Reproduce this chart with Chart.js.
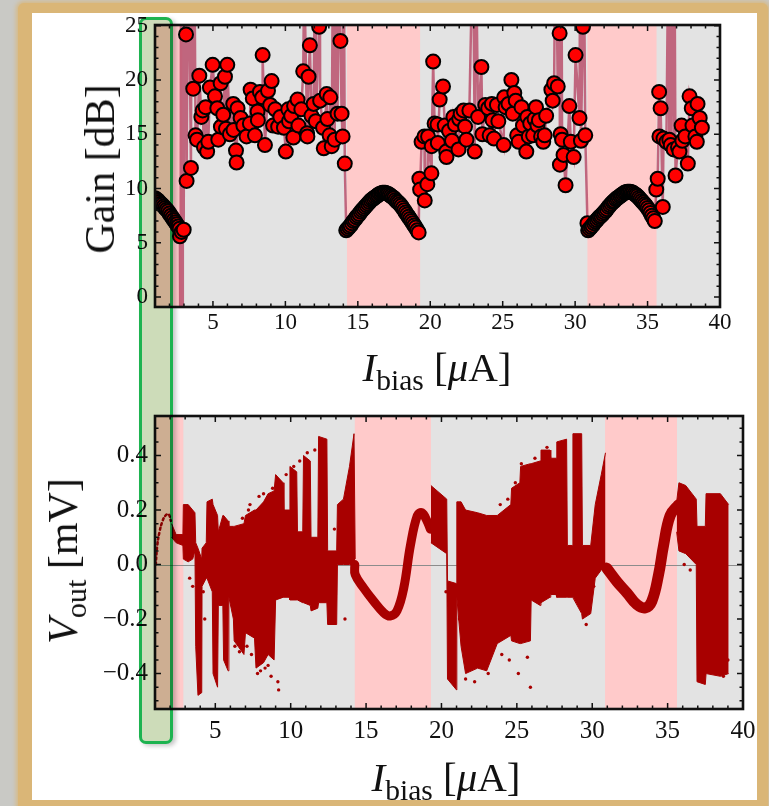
<!DOCTYPE html>
<html>
<head>
<meta charset="utf-8">
<script src="https://cdn.jsdelivr.net/npm/chart.js@4.4.1/dist/chart.umd.min.js"></script>
<style>
  html, body { margin: 0; padding: 0; }
  body { width: 769px; height: 806px; background: #c9c9c5; position: relative; overflow: hidden; font-family: "Liberation Serif", serif; }
  #mat { position: absolute; left: 18px; top: 3px; width: 750px; height: 810px; background: #dab677; border-radius: 6px; box-shadow: 0 0 4px 2px #d6b985; }
  #paper { position: absolute; left: 32px; top: 13px; width: 725px; height: 787px; background: #fff; }
  canvas { position: absolute; left: 0; }
  #gainChart { top: 0; }
  #voutChart { top: 390px; }
  .title { position: absolute; white-space: nowrap; color: #111; line-height: 1; }
  .title sub { font-size: 0.72em; vertical-align: baseline; position: relative; top: 0.3em; }
  .ytitle { font-size: 42px; transform: translate(-50%, -50%) rotate(-90deg); }
  .xtitle { font-size: 41px; transform: translateX(-50%); }
  #marker { position: absolute; left: 139px; top: 17px; width: 28px; height: 721px; border: 3px solid #1db350; border-radius: 7px; background: #cddcb9; mix-blend-mode: multiply; box-shadow: 3px 2px 4px rgba(0, 0, 0, 0.22); }
</style>
</head>
<body>
<div id="mat"></div>
<div id="paper"></div>
<canvas id="gainChart" width="769" height="390"></canvas>
<canvas id="voutChart" width="769" height="416"></canvas>
<div class="title ytitle" style="left:100px; top:169px;">Gain [dB]</div>
<div class="title xtitle" style="left:437px; top:347px;"><i>I</i><sub>bias</sub> [<i>μ</i>A]</div>
<div class="title ytitle" style="left:63px; top:561px;"><i>V</i><sub>out</sub> [mV]</div>
<div class="title xtitle" style="left:446px; top:757px;"><i>I</i><sub>bias</sub> [<i>μ</i>A]</div>
<div id="marker"></div>
<script>
// tick labels
const biasTicks = [5, 10, 15, 20, 25, 30, 35, 40];
const gainTicks = [0, 5, 10, 15, 20, 25];
const voutTicks = [-0.4, -0.2, 0, 0.2, 0.4];

// bias windows where the junction sits on the smooth branch
const pinkBands = [[1, 2.88], [14.25, 19.3], [30.85, 35.62]];

// gain [I_bias, dB] - smooth branches
const gainArcA = [[1.0,9.1],[1.1,9.0],[1.2,8.9],[1.3,8.75],[1.4,8.6],[1.5,8.5],[1.6,8.35],[1.7,8.2],[1.8,8.05],[1.9,7.9],
  [2.0,7.7],[2.1,7.5],[2.2,7.3],[2.3,7.1],[2.4,6.9],[2.5,6.7],[2.6,6.5],[2.7,6.3]];
const gainArcB = [[14.2,6.15],[14.3,6.3],[14.4,6.45],[14.5,6.6],[14.6,6.8],[14.7,7.0],[14.8,7.15],[14.9,7.35],[15.0,7.5],
  [15.1,7.65],[15.2,7.85],[15.3,8.0],[15.4,8.15],[15.5,8.3],[15.6,8.45],[15.7,8.6],[15.8,8.75],[15.9,8.9],[16.0,9.0],
  [16.1,9.1],[16.2,9.2],[16.3,9.3],[16.4,9.4],[16.5,9.5],[16.6,9.55],[16.7,9.6],[16.8,9.6],[16.9,9.6],[17.0,9.55],
  [17.1,9.5],[17.2,9.4],[17.3,9.3],[17.4,9.2],[17.5,9.1],[17.6,8.95],[17.7,8.8],[17.8,8.7],[17.9,8.55],[18.0,8.4],
  [18.1,8.2],[18.2,8.0],[18.3,7.8],[18.4,7.6],[18.5,7.4],[18.6,7.2],[18.7,7.0],[18.8,6.8],[18.9,6.6],[19.0,6.4],
  [19.1,6.15],[19.2,5.95]];
const gainArcC = [[30.9,6.15],[31.0,6.3],[31.1,6.45],[31.2,6.6],[31.3,6.8],[31.4,6.95],[31.5,7.1],[31.6,7.25],[31.7,7.4],
  [31.8,7.5],[31.9,7.65],[32.0,7.8],[32.1,7.95],[32.2,8.1],[32.3,8.3],[32.4,8.45],[32.5,8.6],[32.6,8.75],[32.7,8.85],
  [32.8,9.0],[32.9,9.1],[33.0,9.2],[33.1,9.3],[33.2,9.4],[33.3,9.5],[33.4,9.6],[33.5,9.65],[33.6,9.7],[33.7,9.7],
  [33.8,9.7],[33.9,9.65],[34.0,9.6],[34.1,9.5],[34.2,9.4],[34.3,9.3],[34.4,9.15],[34.5,9.0],[34.6,8.85],[34.7,8.7],
  [34.8,8.55],[34.9,8.4],[35.0,8.2],[35.1,8.0],[35.2,7.75],[35.3,7.5],[35.4,7.25],[35.5,7.0]];

// gain [I_bias, dB] - noisy branches (values beyond the frame leave the plot)
const gainScanA = [[2.72,5.6],[2.76,-10],[2.8,40],[2.84,6.0],[2.88,-10],[2.92,38],[2.98,6.2],[3.05,36],[3.14,24.2],
  [3.18,10.7],[3.3,36],[3.48,11.9],[3.55,38],[3.64,19.2],[3.7,36],[3.8,14.9],[3.9,14.5],[4.06,20.4],[4.2,16.6],
  [4.29,17.2],[4.38,13.8],[4.5,17.5],[4.6,13.4],[4.68,14.3],[4.79,19.3],[4.98,21.4],[5.14,18.5],[5.3,17.4],
  [5.37,14.5],[5.53,19.7],[5.55,15.7],[5.71,16.8],[5.83,20.3],[5.9,15.5],[5.99,21.4],[6.17,15.0],[6.4,17.8],
  [6.42,15.4],[6.59,13.5],[6.63,12.4],[6.7,17.4],[6.91,16.5],[7.1,15.8],[7.32,14.8],[7.55,16.0],[7.6,19.1],
  [7.75,18.3],[7.9,14.9],[8.08,17.1],[8.1,16.3],[8.24,18.9],[8.4,18.4],[8.43,22.3],[8.59,14.0],[8.8,19.0],
  [8.95,17.7],[9.05,19.9],[9.15,15.8],[9.3,17.3],[9.5,15.7],[9.65,16.6],[9.9,15.6],[10.03,13.4],[10.2,17.3],
  [10.25,16.2],[10.4,16.7],[10.55,14.7],[10.6,17.6],[10.84,18.2],[10.9,15.8],[11.1,17.3],[11.23,20.8],[11.3,30],
  [11.5,15.1],[11.52,14.8],[11.6,20.3],[11.69,23.2],[11.8,16.7],[11.95,17.8],[12.05,32],[12.1,16.2],[12.33,24.9],
  [12.38,33],[12.4,18.1],[12.6,15.6],[12.65,13.7],[12.85,18.7],[12.9,16.4],[13.05,14.9],[13.1,18.4],[13.2,13.9],
  [13.3,36],[13.4,14.5],[13.5,35],[13.6,16.9],[13.7,34],[13.8,23.6],[13.88,16.9],[13.95,14.8],[14.03,34],[14.1,12.3]];
const gainScanB = [[19.25,10.9],[19.3,9.9],[19.4,14.3],[19.6,14.8],[19.62,8.9],[19.8,10.4],[19.85,14.8],[20.08,11.4],
  [20.1,13.9],[20.2,21.7],[20.3,16.0],[20.5,15.9],[20.52,14.2],[20.65,18.2],[20.88,19.4],[21.0,15.8],[21.1,13.4],
  [21.12,12.9],[21.3,15.3],[21.5,14.4],[21.6,16.6],[21.7,15.9],[21.95,13.6],[22.0,16.4],[22.1,16.9],[22.3,17.2],
  [22.4,15.7],[22.5,14.5],[22.7,17.2],[22.95,34],[23.07,13.4],[23.15,33],[23.3,16.6],[23.53,21.2],[23.6,15.0],
  [23.8,17.7],[24.0,17.4],[24.1,14.9],[24.25,17.8],[24.3,16.3],[24.4,14.6],[24.6,17.7],[24.7,16.2],[25.07,14.0],
  [25.1,18.4],[25.2,17.5],[25.4,17.8],[25.6,20.0],[25.7,16.9],[25.8,18.8],[25.9,18.1],[26.0,14.9],[26.1,14.3],
  [26.3,17.5],[26.4,15.8],[26.63,13.4],[26.7,16.6],[26.8,14.8],[26.9,16.0],[27.1,14.9],[27.2,16.4],[27.3,17.5],
  [27.4,15.8],[27.5,16.3],[27.65,14.8],[27.8,14.3],[27.9,14.9],[28.0,16.7],[28.36,19.1],[28.45,18.1],[28.55,19.7],
  [28.65,36],[28.8,19.4],[28.93,24.3],[28.95,12.2],[29.0,15.0],[29.05,35],[29.1,14.5],[29.2,13.1],[29.34,10.3],
  [29.6,17.6],[29.7,14.3],[29.9,12.9],[30.03,22.3],[30.3,16.5],[30.35,34],[30.4,14.4],[30.54,24.9],[30.6,33],
  [30.7,14.9],[30.85,6.8]];
const gainScanC = [[35.6,9.9],[35.7,10.9],[35.8,18.9],[35.82,14.8],[35.9,17.4],[36.05,8.3],[36.1,14.6],[36.3,14.3],
  [36.45,35],[36.5,14.5],[36.6,14.0],[36.7,36],[36.8,13.6],[36.85,35],[36.93,11.2],[37.1,13.8],[37.2,13.4],
  [37.35,15.8],[37.4,14.4],[37.6,14.8],[37.78,12.3],[37.9,18.5],[38.05,17.4],[38.1,15.8],[38.3,14.8],[38.4,14.3],
  [38.45,17.8],[38.6,16.5],[38.75,15.6]];

// V_out [I_bias, top, bottom] - spread of the switching branches
const voutSpreadA = [[2.1,0.15,0.10],[2.4,0.11,0.08],[2.85,0.11,0.07],[2.88,0.22,0.02],[3.2,0.22,0.01],[3.5,0.20,0.02],
  [3.65,0.19,0.05],[3.7,0.08,-0.30],[3.85,0.06,-0.48],[4.1,0.02,-0.47],[4.12,0.06,-0.08],[4.4,0.08,-0.05],
  [4.45,0.23,-0.05],[4.8,0.24,-0.10],[4.85,0.22,-0.40],[5.15,0.18,-0.45],[5.2,0.12,-0.15],[5.5,0.18,-0.15],
  [5.55,0.18,-0.35],[5.85,0.16,-0.39],[5.9,0.14,-0.12],[6.2,0.14,-0.20],[6.25,0.14,-0.28],[6.9,0.15,-0.33],
  [7.0,0.18,-0.25],[7.6,0.20,-0.27],[7.7,0.20,-0.38],[8.2,0.23,-0.36],[8.5,0.26,-0.33],[8.9,0.27,-0.35],
  [9.0,0.33,-0.13],[9.5,0.30,-0.12],[9.55,0.20,-0.12],[9.9,0.20,-0.12],[9.95,0.36,-0.13],[10.4,0.34,-0.13],
  [10.45,0.12,-0.13],[10.8,0.12,-0.14],[10.85,0.40,-0.14],[11.3,0.38,-0.15],[11.35,0.10,-0.17],[11.8,0.10,-0.16],
  [11.85,0.47,-0.14],[12.4,0.46,-0.14],[12.45,0.05,-0.22],[13.05,0.05,-0.22],[13.1,0.22,0.0],[13.5,0.24,0.0],
  [13.9,0.36,0.0],[14.2,0.48,0.0],[14.28,0.02,-0.02]];
const voutSpreadB = [[19.3,0.29,0.08],[20.35,0.24,0.04],[20.4,-0.06,-0.42],[21.0,-0.07,-0.46],[21.02,0.23,-0.12],
  [21.3,0.23,-0.30],[21.6,0.20,-0.40],[22.4,0.19,-0.38],[23.0,0.18,-0.39],[23.7,0.18,-0.29],[24.6,0.22,-0.26],
  [24.65,0.28,-0.28],[25.2,0.30,-0.29],[25.25,0.36,-0.29],[25.9,0.37,-0.28],[25.95,0.37,-0.13],[26.55,0.38,-0.15],
  [26.6,0.42,-0.14],[27.2,0.42,-0.12],[27.25,0.39,-0.11],[27.6,0.39,-0.11],[27.65,0.45,-0.12],[28.3,0.46,-0.12],
  [28.35,0.07,-0.12],[28.7,0.07,-0.12],[28.72,0.48,-0.12],[29.3,0.48,-0.18],[29.35,0.07,-0.20],[29.9,0.07,-0.18],
  [30.2,0.22,-0.05],[30.6,0.33,-0.02],[30.88,0.41,0.0]];
const voutSpreadC = [[35.6,0.23,0.12],[35.75,0.30,0.05],[36.2,0.29,0.04],[36.9,0.24,0.0],[36.95,0.14,-0.43],
  [37.5,0.14,-0.44],[37.55,0.26,-0.40],[38.5,0.26,-0.41],[39.05,0.22,-0.40]];

// V_out [I_bias, mV] - smooth branches
const voutSweepA = [[1.05,0.0],[1.15,0.07],[1.3,0.12],[1.5,0.16],[1.7,0.18],[1.9,0.185],[2.05,0.16]];
const voutSweepB = [[14.25,0.0],[14.28,-0.037],[14.84,-0.086],[15.5,-0.134],[16.17,-0.177],[16.6,-0.189],[17.05,-0.17],
  [17.5,-0.086],[17.94,0.07],[18.4,0.18],[18.7,0.19],[19.04,0.16],[19.26,0.13]];
const voutSweepC = [[30.96,-0.013],[31.63,-0.062],[32.3,-0.104],[32.96,-0.147],[33.51,-0.159],[33.95,-0.135],
  [34.4,-0.037],[34.73,0.07],[35.17,0.18],[35.73,0.22]];

// isolated samples outside the dense spread
const voutStray = [[3.3,-0.05],[3.5,-0.08],[4.2,-0.1],[4.3,-0.2],[6.3,-0.3],[6.6,-0.32],[7.1,-0.3],[7.4,-0.33],
  [7.8,-0.4],[8.0,-0.39],[8.3,-0.38],[8.5,-0.37],[8.7,-0.41],[9.15,-0.43],[9.2,-0.46],[6.8,0.17],[7.2,0.2],
  [7.3,0.22],[7.9,0.25],[8.2,0.26],[8.6,0.25],[8.8,0.28],[9.7,0.33],[10.2,0.36],[10.6,0.38],[11.1,0.41],
  [11.6,0.42],[12.9,0.13],[13.3,0.1],[13.6,-0.2],[20.3,-0.1],[20.5,-0.15],[21.6,-0.42],[22.2,-0.43],[23.1,-0.4],
  [24.0,-0.33],[24.5,-0.35],[25.1,-0.40],[25.7,-0.34],[25.9,-0.45],[23.9,0.22],[24.4,0.24],[24.9,0.3],
  [25.3,0.37],[26.2,0.39],[27.0,0.43],[29.6,-0.22],[30.1,-0.08],[36.1,0.0],[36.5,-0.02],[36.3,0.06],
  [37.6,-0.1],[37.9,-0.2],[38.2,-0.3],[38.7,-0.41],[39.0,-0.35],[21.2,-0.2]];

const SERIF = "'Liberation Serif', 'Times New Roman', serif";
const DARK_RED = '#a80000';

// gray plot field with pink windows, optional zero line
const plotBackdrop = {
  id: 'plotBackdrop',
  beforeDraw(chart, args, opts) {
    const { ctx, chartArea: a, scales: { x, y } } = chart;
    ctx.save();
    ctx.fillStyle = '#e3e3e3';
    ctx.fillRect(a.left, a.top, a.width, a.height);
    ctx.fillStyle = '#ffcaca';
    pinkBands.forEach(([lo, hi]) => {
      const x0 = Math.max(a.left, x.getPixelForValue(lo));
      const x1 = Math.min(a.right, x.getPixelForValue(hi));
      ctx.fillRect(x0, a.top, x1 - x0, a.height);
    });
    if (opts.zeroLine) {
      const y0 = Math.round(y.getPixelForValue(0)) + 0.5;
      ctx.strokeStyle = '#8c8c8c';
      ctx.lineWidth = 1;
      ctx.beginPath();
      ctx.moveTo(a.left, y0);
      ctx.lineTo(a.right, y0);
      ctx.stroke();
    }
    ctx.restore();
  }
};

// closed black frame with inward ticks on all four sides
const boxFrame = {
  id: 'boxFrame',
  afterDraw(chart, args, opts) {
    const { ctx, chartArea: a, scales: { x, y } } = chart;
    const marks = (scale, minor, major) => {
      const out = [];
      const start = Math.ceil(scale.min / minor - 1e-9);
      for (let i = start; i * minor <= scale.max + 1e-9; i++) {
        const v = i * minor;
        const r = v / major;
        out.push({ p: scale.getPixelForValue(v), big: Math.abs(r - Math.round(r)) < 1e-6 });
      }
      return out;
    };
    ctx.save();
    ctx.strokeStyle = '#111';
    ctx.lineWidth = 1.5;
    ctx.beginPath();
    marks(x, opts.xMinor, opts.xMajor).forEach(({ p, big }) => {
      const len = big ? 6 : 3.5;
      ctx.moveTo(p, a.bottom); ctx.lineTo(p, a.bottom - len);
      ctx.moveTo(p, a.top); ctx.lineTo(p, a.top + len);
    });
    marks(y, opts.yMinor, opts.yMajor).forEach(({ p, big }) => {
      const len = big ? 6 : 3.5;
      ctx.moveTo(a.left, p); ctx.lineTo(a.left + len, p);
      ctx.moveTo(a.right, p); ctx.lineTo(a.right - len, p);
    });
    ctx.stroke();
    ctx.lineWidth = 2.6;
    ctx.strokeRect(a.left, a.top, a.width, a.height);
    ctx.restore();
  }
};

function xScale(height, pad, size) {
  return {
    type: 'linear', min: 1, max: 40,
    grid: { display: false, drawTicks: false },
    border: { display: false },
    afterBuildTicks: s => { s.ticks = biasTicks.map(v => ({ value: v })); },
    afterFit: s => { s.height = height; },
    ticks: { padding: pad, color: '#111', font: { family: SERIF, size }, maxRotation: 0, autoSkip: false }
  };
}

function yScale(min, max, values, fmt, size) {
  return {
    type: 'linear', min, max,
    grid: { display: false, drawTicks: false },
    border: { display: false },
    afterBuildTicks: s => { s.ticks = values.map(v => ({ value: v })); },
    afterFit: s => { s.width = 155; },
    ticks: { padding: 7, color: '#111', font: { family: SERIF, size }, callback: fmt }
  };
}

// Gain vs bias
const gainPoints = [...gainArcA, ...gainScanA, ...gainArcB, ...gainScanB, ...gainArcC, ...gainScanC];

new Chart(document.getElementById('gainChart'), {
  type: 'line',
  data: {
    datasets: [{
      label: 'Gain',
      data: gainPoints.map(([x, y]) => ({ x, y })),
      borderColor: 'rgba(186, 80, 108, 0.85)',
      borderWidth: 2.5,
      pointRadius: 7,
      pointBackgroundColor: '#ff0000',
      pointBorderColor: '#000',
      pointBorderWidth: 2,
      tension: 0
    }]
  },
  options: {
    responsive: false,
    animation: false,
    events: [],
    layout: { padding: { top: 25, right: 49, left: 0, bottom: 0 } },
    plugins: {
      legend: { display: false },
      tooltip: { enabled: false },
      plotBackdrop: { zeroLine: false },
      boxFrame: { xMinor: 1, xMajor: 5, yMinor: 1, yMajor: 5 }
    },
    scales: {
      x: xScale(83, 2, 23),
      y: yScale(-0.92, 25.07, gainTicks, v => String(v), 23)
    }
  },
  plugins: [plotBackdrop, boxFrame]
});

// V_out vs bias
function spreadPair(rows) {
  const base = { borderColor: DARK_RED, backgroundColor: DARK_RED, borderWidth: 1, pointRadius: 0, tension: 0 };
  return [
    { ...base, label: 'top', data: rows.map(([x, t]) => ({ x, y: t })), fill: '+1' },
    { ...base, label: 'bottom', data: rows.map(([x, , b]) => ({ x, y: b })), fill: false }
  ];
}

function sweep(rows, width, dash) {
  return {
    label: 'sweep',
    data: rows.map(([x, y]) => ({ x, y })),
    borderColor: DARK_RED,
    borderWidth: width,
    borderDash: dash || [],
    borderCapStyle: 'round',
    pointRadius: 0,
    tension: 0.4,
    fill: false
  };
}

new Chart(document.getElementById('voutChart'), {
  type: 'line',
  data: {
    datasets: [
      ...spreadPair(voutSpreadA),
      ...spreadPair(voutSpreadB),
      ...spreadPair(voutSpreadC),
      sweep(voutSweepA, 2.5, [2, 3]),
      sweep(voutSweepB, 9),
      sweep(voutSweepC, 11),
      {
        label: 'stray',
        data: voutStray.map(([x, y]) => ({ x, y })),
        showLine: false,
        pointRadius: 1.7,
        pointBorderWidth: 0,
        pointBackgroundColor: DARK_RED,
        fill: false
      }
    ]
  },
  options: {
    responsive: false,
    animation: false,
    events: [],
    layout: { padding: { top: 26, right: 26, left: 0, bottom: 0 } },
    plugins: {
      legend: { display: false },
      tooltip: { enabled: false },
      plotBackdrop: { zeroLine: true },
      boxFrame: { xMinor: 1, xMajor: 5, yMinor: 0.05, yMajor: 0.2 }
    },
    scales: {
      x: xScale(97, 7, 25),
      y: yScale(-0.53, 0.545, voutTicks, v => (Math.abs(v) < 1e-9 ? '0.0' : (v < 0 ? '\u2212' : '') + Math.abs(v).toFixed(1)), 25)
    }
  },
  plugins: [plotBackdrop, boxFrame]
});
</script>
</body>
</html>
